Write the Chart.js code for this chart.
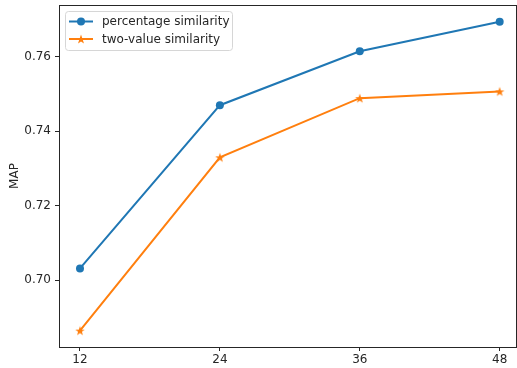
<!DOCTYPE html>
<html>
<head>
<meta charset="utf-8">
<script src="https://cdn.jsdelivr.net/npm/chart.js@4/dist/chart.umd.min.js"></script>
<style>
html,body{margin:0;padding:0;background:#fff;}
#wrap{width:517px;height:368px;}
</style>
</head>
<body>
<div id="wrap"><canvas id="c" width="517" height="368"></canvas></div>
<script>
const categories = [12, 24, 36, 48];
const percentageSimilarity = [0.7032, 0.7470, 0.7615, 0.7694];
const twoValueSimilarity = [0.6865, 0.7330, 0.7489, 0.7507];
const yTicks = [0.70, 0.72, 0.74, 0.76];
const seriesNames = ['percentage similarity', 'two-value similarity'];

const BLUE = '#1f77b4', ORANGE = '#ff7f0e';
const FONT = '"DejaVu Sans", sans-serif';
const FS = 12;

function starImage(color, r) {
  const s = Math.ceil(r * 2 + 2);
  const cv = document.createElement('canvas');
  cv.width = s; cv.height = s;
  const g = cv.getContext('2d');
  g.fillStyle = color;
  g.beginPath();
  for (let i = 0; i < 10; i++) {
    const rad = (i % 2 === 0) ? r : r * 0.4;
    const a = -Math.PI / 2 + i * Math.PI / 5;
    const x = s / 2 + rad * Math.cos(a), y = s / 2 + rad * Math.sin(a) + 0.5;
    if (i === 0) g.moveTo(x, y); else g.lineTo(x, y);
  }
  g.closePath();
  g.fill();
  return cv;
}
const star = starImage(ORANGE, 5);

const frame = {
  id: 'frame',
  afterDraw(chart) {
    const {ctx, chartArea: a} = chart;
    ctx.save();
    ctx.strokeStyle = '#262626';
    ctx.lineWidth = 1;
    ctx.strokeRect(Math.round(a.left) + 0.5, Math.round(a.top) + 0.5, Math.round(a.right - a.left), Math.round(a.bottom - a.top));
    // legend
    const bx = 65.5, by = 11.5, bw = 167, bh = 39;
    ctx.fillStyle = 'rgba(255,255,255,0.8)';
    ctx.strokeStyle = '#d6d6d6';
    ctx.beginPath();
    if (ctx.roundRect) ctx.roundRect(bx, by, bw, bh, 3); else ctx.rect(bx, by, bw, bh);
    ctx.fill(); ctx.stroke();
    const rows = [
      {y: 21.5, color: BLUE, name: seriesNames[0], mk: 'circle'},
      {y: 39, color: ORANGE, name: seriesNames[1], mk: 'star'}
    ];
    ctx.font = FS + 'px ' + FONT;
    ctx.textBaseline = 'middle';
    rows.forEach(r => {
      ctx.strokeStyle = r.color; ctx.lineWidth = 2;
      ctx.beginPath(); ctx.moveTo(69, r.y); ctx.lineTo(93, r.y); ctx.stroke();
      if (r.mk === 'circle') {
        ctx.fillStyle = r.color; ctx.beginPath(); ctx.arc(81, r.y, 4, 0, Math.PI * 2); ctx.fill();
      } else {
        ctx.drawImage(star, 81 - star.width / 2, r.y - star.height / 2);
      }
      ctx.fillStyle = '#262626';
      ctx.fillText(r.name, 102, r.y + 0.5);
    });
    ctx.restore();
  }
};

new Chart(document.getElementById('c'), {
  type: 'line',
  data: {
    datasets: [
      {
        label: seriesNames[0],
        data: categories.map((x, i) => ({x, y: percentageSimilarity[i]})),
        borderColor: BLUE, backgroundColor: BLUE,
        borderWidth: 2, pointRadius: 4, pointHoverRadius: 4,
        pointStyle: 'circle', pointBorderWidth: 0, tension: 0
      },
      {
        label: seriesNames[1],
        data: categories.map((x, i) => ({x, y: twoValueSimilarity[i]})),
        borderColor: ORANGE, backgroundColor: ORANGE,
        borderWidth: 2, pointRadius: 5, pointStyle: star, tension: 0
      }
    ]
  },
  options: {
    responsive: false,
    animation: false,
    devicePixelRatio: 1,
    layout: {autoPadding: false, padding: {left: 0, right: 1, top: 5, bottom: 0}},
    plugins: {legend: {display: false}, tooltip: {enabled: false}},
    scales: {
      x: {
        type: 'linear', min: 10.2, max: 49.4,
        afterBuildTicks(s) { s.ticks = categories.map(v => ({value: v})); },
        afterFit(s) { s.height = 21; s.paddingLeft = 0; s.paddingRight = 0; },
        grid: {drawOnChartArea: false, drawTicks: true, tickLength: 4, color: '#262626'},
        border: {display: false},
        ticks: {padding: 2, color: '#262626', font: {family: FONT, size: FS}, maxRotation: 0,
          callback: v => String(v)}
      },
      y: {
        min: 0.6821, max: 0.7739,
        afterBuildTicks(s) { s.ticks = yTicks.map(v => ({value: v})); },
        afterFit(s) { s.width = 59; s.paddingTop = 0; s.paddingBottom = 0; },
        grid: {drawOnChartArea: false, drawTicks: true, tickLength: 4, color: '#262626'},
        border: {display: false},
        title: {display: true, text: 'MAP', color: '#262626', font: {family: FONT, size: FS}, padding: {top: 8, bottom: 0}},
        ticks: {padding: 4, color: '#262626', font: {family: FONT, size: FS},
          callback: v => v.toFixed(2)}
      }
    }
  },
  plugins: [frame]
});
</script>
</body>
</html>
